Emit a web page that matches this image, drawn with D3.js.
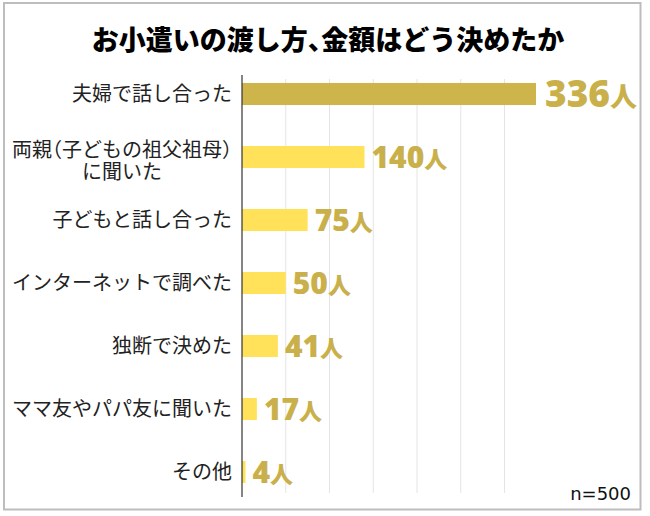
<!DOCTYPE html>
<html><head><meta charset="utf-8">
<script src="https://cdn.jsdelivr.net/npm/d3@7"></script>
<style>
html,body{margin:0;padding:0;background:#fff;}
svg{display:block;}
</style></head>
<body>
<svg id="chart" width="650" height="516"></svg>
<script>
const title = "お小遣いの渡し方、金額はどう決めたか";
const categories = ["夫婦で話し合った","両親（子どもの祖父祖母）\nに聞いた","子どもと話し合った","インターネットで調べた","独断で決めた","ママ友やパパ友に聞いた","その他"];
const values = [336,140,75,50,41,17,4];
const unit = "人";
const xTicks = [50,100,150,200,250,300];
const note = "n=500";

const svg = d3.select("#chart");

svg.append("rect").attr("x",4).attr("y",3).attr("width",636.5).attr("height",506.5)
  .attr("fill","#fff").attr("stroke","#bdbdbd").attr("stroke-width",2);

const tt = svg.append("text").attr("x",328).attr("y",50).attr("text-anchor","middle")
  .style("font-family","'Noto Sans CJK JP'").style("font-weight",900).style("font-size","27px")
  .attr("fill","#000");
title.split(/(、)/).filter(s=>s.length).forEach(p=>{
  const sp = tt.append("tspan").text(p);
  if(p==="、") sp.style("font-feature-settings","'halt'");
});

const x = d3.scaleLinear().domain([0,345]).range([242, 242+345*0.875]);
const y = d3.scaleBand().domain(categories).range([62.5,503.5]).paddingInner(0.65).paddingOuter(0.325);

// gridlines
svg.append("g").selectAll("line").data(xTicks).join("line")
  .attr("x1",d=>x(d)).attr("x2",d=>x(d)).attr("y1",79).attr("y2",493)
  .attr("stroke","#e4e4e4").attr("stroke-width",1);

// bars
svg.append("g").selectAll("rect").data(values).join("rect")
  .attr("x",x(0)).attr("y",(d,i)=>y(categories[i]))
  .attr("width",d=>x(d)-x(0)).attr("height",y.bandwidth())
  .attr("fill",(d,i)=>i===0?"#cdb54c":"#ffe15a");

// axis line
svg.append("line").attr("x1",x(0)).attr("x2",x(0)).attr("y1",75).attr("y2",497)
  .attr("stroke","#333").attr("stroke-width",1.2);

// value labels
const vl = svg.append("g").selectAll("text").data(values).join("text")
  .attr("x",(d,i)=>x(d)+(i===0?9:7))
  .attr("y",(d,i)=>y(categories[i])+y.bandwidth()/2+(i===0?13:11))
  .attr("fill","#c9b04a")
  .style("font-family","'Open Sans'").style("font-weight",800);
vl.append("tspan").style("font-size",(d,i)=>i===0?"37px":"30px").text(d=>d);
vl.append("tspan").style("font-family","'Noto Sans CJK JP'").style("font-weight",900)
  .style("font-size",(d,i)=>i===0?"27px":"23px").text(unit);

// category labels
const lab = svg.append("g");
categories.forEach((c,i)=>{
  const lines = c.split("\n");
  const cy = y(c)+y.bandwidth()/2;
  const t = lab.append("text").attr("fill","#222")
    .style("font-family","'Noto Sans CJK JP'").style("font-size","20px");
  if(lines.length===1){
    t.attr("x",232).attr("y",cy+7).attr("text-anchor","end").text(c);
  } else {
    t.attr("text-anchor","middle");
    const l1 = t.append("tspan").attr("x",0).attr("y",cy);
    lines[0].split(/([（）])/).filter(s=>s.length).forEach(p=>{
      const sp = l1.append("tspan").text(p);
      if(p==="（"||p==="）") sp.style("font-feature-settings","'halt'");
    });
    const l2 = t.append("tspan").attr("x",0).attr("y",cy+22).text(lines[1]);
    const w = l1.node().getComputedTextLength();
    l1.attr("x",232-w/2); l2.attr("x",232-w/2);
  }
});

svg.append("text").attr("x",631).attr("y",500).attr("text-anchor","end")
  .style("font-family","'DejaVu Sans'").style("font-size","18px").attr("fill","#111").text(note);
</script>
</body></html>
